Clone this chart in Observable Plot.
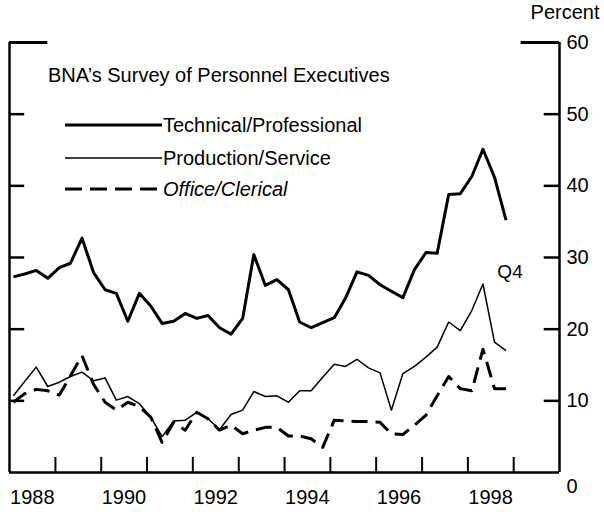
<!DOCTYPE html>
<html><head><meta charset="utf-8">
<script src="https://cdn.jsdelivr.net/npm/d3@7"></script>
<script src="https://cdn.jsdelivr.net/npm/@observablehq/plot@0.6"></script>
<style>
html,body{margin:0;padding:0;background:#fff;}
#wrap{position:relative;width:604px;height:512px;font-family:"Liberation Sans",Arial,Helvetica,sans-serif;color:#000;}
#wrap svg{display:block;}
.ov{position:absolute;font-size:20px;line-height:24px;white-space:nowrap;}
</style></head><body><div id="wrap"></div>
<script>
// ---- data (percent of firms, quarterly) ----
const quarters = [
"1988Q1","1988Q2","1988Q3","1988Q4","1989Q1","1989Q2","1989Q3","1989Q4",
"1990Q1","1990Q2","1990Q3","1990Q4","1991Q1","1991Q2","1991Q3","1991Q4",
"1992Q1","1992Q2","1992Q3","1992Q4","1993Q1","1993Q2","1993Q3","1993Q4",
"1994Q1","1994Q2","1994Q3","1994Q4","1995Q1","1995Q2","1995Q3","1995Q4",
"1996Q1","1996Q2","1996Q3","1996Q4","1997Q1","1997Q2","1997Q3","1997Q4",
"1998Q1","1998Q2","1998Q3","1998Q4"];
const technical = [27.3,27.7,28.2,27.1,28.6,29.2,32.7,27.9,25.5,25.0,21.1,25.0,23.2,20.8,21.1,22.2,21.5,21.9,20.2,19.3,21.5,30.4,26.1,26.9,25.5,21.0,20.2,20.9,21.6,24.3,28.0,27.5,26.2,25.3,24.4,28.3,30.7,30.6,38.8,38.9,41.3,45.1,41.2,35.2];
const production = [10.7,12.7,14.7,12.0,12.6,13.4,14.0,12.8,13.2,10.1,10.6,9.6,7.7,5.0,7.2,7.3,8.4,7.5,6.0,8.1,8.7,11.3,10.6,10.7,9.8,11.4,11.4,13.3,15.1,14.8,15.8,14.6,13.9,8.7,13.8,14.8,16.1,17.5,21.0,19.8,22.6,26.3,18.2,17.0];
const office = [9.8,11.0,11.6,11.4,10.8,13.5,16.3,12.3,9.8,8.7,9.8,9.2,7.7,4.2,7.0,5.9,8.4,7.5,5.9,6.6,5.4,5.9,6.3,6.3,5.1,5.1,4.7,3.5,7.3,7.2,7.1,7.1,7.0,5.4,5.3,6.6,8.0,10.7,13.4,11.7,11.4,17.2,11.7,11.7];
const seriesNames = ["Technical/Professional","Production/Service","Office/Clerical"];
const yearTicks = [1989,1990,1991,1992,1993,1994,1995,1996,1997,1998,1999];
const yearLabels = [1988,1990,1992,1994,1996,1998];
const percentTicks = [0,10,20,30,40,50,60];
const titleText = "BNA\u2019s Survey of Personnel Executives";
const unitText = "Percent";
const noteText = "Q4";

// ---- build table ----
const qDate = s => new Date(Date.UTC(+s.slice(0,4), 3*(+s[5]-1)+1, 1));
const seriesValues = [technical, production, office];
const rows = [];
seriesNames.forEach((name, k) => quarters.forEach((q, i) => rows.push({date: qDate(q), value: seriesValues[k][i], series: name})));
const bySeries = name => rows.filter(d => d.series === name);

const styles = {
  "Technical/Professional": {strokeWidth: 3, dash: null},
  "Production/Service": {strokeWidth: 1.5, dash: null},
  "Office/Clerical": {strokeWidth: 3, dash: "16,8"}
};

const yr = (y, m = 0) => new Date(Date.UTC(y, m, 1));
const xStart = yr(1988), xEnd = yr(2000);
const inner = percentTicks.filter(v => v > 0 && v < 60);
const yTop = percentTicks[percentTicks.length - 1];
const lastDate = qDate(quarters[quarters.length - 1]);

const chart = Plot.plot({
  width: 604, height: 512,
  marginLeft: 9, marginRight: 45, marginTop: 42, marginBottom: 40,
  x: {type: "utc", domain: [xStart, xEnd], axis: null},
  y: {domain: [0, 60], axis: null},
  style: {fontFamily: '"Liberation Sans", Arial, Helvetica, sans-serif', fontSize: "20px", color: "#000", background: "transparent", overflow: "visible"},
  marks: [
    Plot.ruleX([xStart, xEnd], {y1: 0, y2: yTop, stroke: "#000", strokeWidth: 2.5}),
    Plot.ruleY([0], {x1: xStart, x2: xEnd, stroke: "#000", strokeWidth: 2.5}),
    Plot.ruleX(yearTicks.map(y => yr(y)), {y1: 0, y2: 2.1, stroke: "#000", strokeWidth: 2}),
    Plot.ruleY(inner, {x1: xStart, x2: yr(1988, 4), stroke: "#000", strokeWidth: 2.5}),
    Plot.ruleY(inner, {x1: yr(1999, 8), x2: xEnd, stroke: "#000", strokeWidth: 2.5}),
    Plot.ruleY([yTop], {x1: xStart, x2: yr(1988, 10), stroke: "#000", strokeWidth: 3}),
    Plot.ruleY([yTop], {x1: yr(1999, 2), x2: xEnd, stroke: "#000", strokeWidth: 3}),
    Plot.text(percentTicks.filter(v => v > 0), {x: xEnd, y: d => d, text: d => String(d), dx: 7, textAnchor: "start", fontSize: 20}),
    Plot.text(percentTicks.filter(v => v === 0), {x: xEnd, y: d => d, text: d => String(d), dx: 7, dy: 14, textAnchor: "start", fontSize: 20}),
    Plot.text(yearLabels, {x: d => yr(d, 6), y: 0, text: d => String(d), dy: 25, fontSize: 20}),
    Plot.text([unitText], {x: xEnd, y: yTop, text: d => d, dy: -30, dx: 40, textAnchor: "end", fontSize: 20}),
    ...seriesNames.map(name => Plot.line(bySeries(name), {
      x: "date", y: "value", stroke: "#000",
      strokeWidth: styles[name].strokeWidth,
      strokeDasharray: styles[name].dash,
      strokeLinejoin: "round", strokeLinecap: "butt"
    })),
    Plot.text([noteText], {x: () => lastDate, y: () => 28, text: d => d, dx: 4, textAnchor: "middle", fontSize: 19})
  ]
});

const wrap = document.getElementById("wrap");
wrap.appendChild(chart);

const t = document.createElement("div");
t.className = "ov"; t.style.left = "48px"; t.style.top = "63px"; t.textContent = titleText;
wrap.appendChild(t);
const legendY = [125, 158, 189];
const ns = "http://www.w3.org/2000/svg";
const lsvg = document.createElementNS(ns, "svg");
lsvg.setAttribute("width", 604); lsvg.setAttribute("height", 512);
lsvg.style.position = "absolute"; lsvg.style.left = "0"; lsvg.style.top = "0";
seriesNames.forEach((name, k) => {
  const ln = document.createElementNS(ns, "line");
  ln.setAttribute("x1", 65); ln.setAttribute("x2", 162);
  ln.setAttribute("y1", legendY[k]); ln.setAttribute("y2", legendY[k]);
  ln.setAttribute("stroke", "#000");
  ln.setAttribute("stroke-width", styles[name].strokeWidth);
  if (styles[name].dash) ln.setAttribute("stroke-dasharray", "17,8");
  lsvg.appendChild(ln);
  const d = document.createElement("div");
  d.className = "ov"; d.style.left = "163px"; d.style.top = (legendY[k] - 12) + "px";
  d.textContent = name;
  if (name === "Office/Clerical") d.style.fontStyle = "italic";
  wrap.appendChild(d);
});
wrap.appendChild(lsvg);
</script>
</body></html>
